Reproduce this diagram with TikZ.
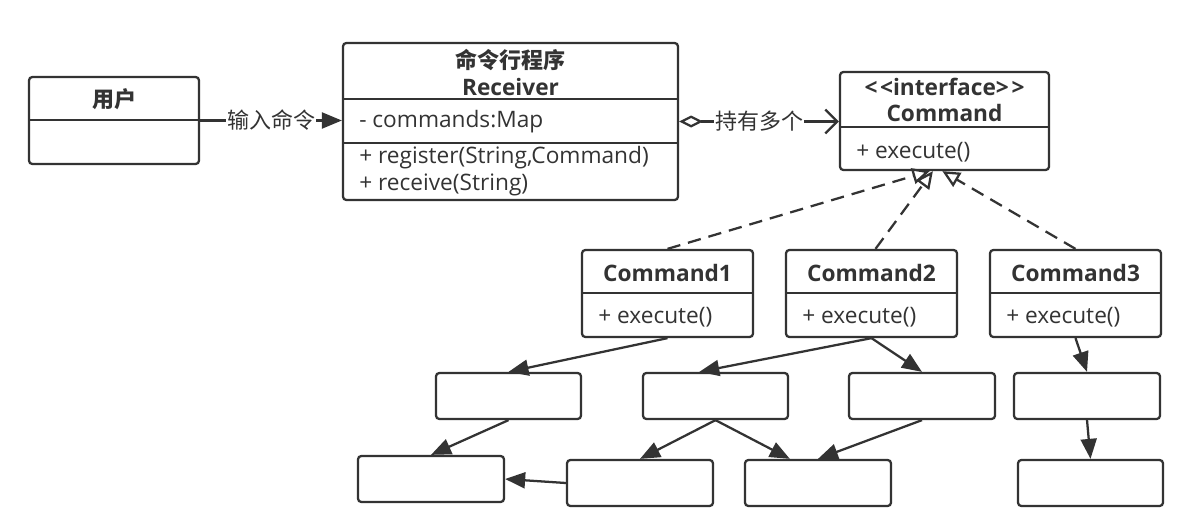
\documentclass[tikz,border=0pt]{standalone}
\usepackage{fontspec}
\setmainfont{Open Sans}
\newfontfamily\cjk{Noto Sans CJK SC}
\usetikzlibrary{arrows.meta,fit,calc}
\definecolor{ink}{HTML}{333333}
\begin{document}
\begin{tikzpicture}[x=0.75pt,y=-0.75pt,
  font=\fontsize{17}{20}\selectfont,
  umlbox/.style={draw=ink, line width=1.7pt, rounded corners=2.5pt, inner sep=0pt},
  txt/.style={text=ink, inner sep=0pt},
  boldtxt/.style={txt, font=\fontsize{17}{20}\selectfont\bfseries},
  divider/.style={draw=ink, line width=1.7pt},
  conn/.style={draw=ink, line width=1.7pt},
  arr/.style={conn, -{Triangle[length=15pt,width=12pt]}},
  realize/.style={conn, dash pattern=on 10pt off 6pt, -{Triangle[open,fill=white,length=13pt,width=12pt]}},
  lab/.style={txt, fill=white, inner sep=1pt, font=\fontsize{16.5}{19}\selectfont\cjk}
]
\useasboundingbox (0,0) rectangle (1202,528);

% user box
\node[umlbox, fit={(29,77) (199,164)}] (u) {};
\draw[divider] (29,120) -- (199,120);
\node[boldtxt, font=\fontsize{16.5}{19}\selectfont\cjk\bfseries] (ut) at (114,99) {用户};

% receiver box
\node[umlbox, fit={(343,43) (678,200)}] (r) {};
\draw[divider] (343,99) -- (678,99);
\draw[divider] (343,143) -- (678,143);
\node[boldtxt, font=\fontsize{16.5}{19}\selectfont\cjk\bfseries] (rt1) at (510.5,60) {命令行程序};
\node[boldtxt] (rt2) at (510.5,87) {Receiver};
\node[txt, anchor=west] (ra) at (359,122) {- commands:Map};
\node[txt, anchor=west] (rm1) at (359,158) {+ register(String,Command)};
\node[txt, anchor=west] (rm2) at (359,185) {+ receive(String)};

% command interface
\node[umlbox, fit={(840,72) (1049,170)}] (cmd) {};
\draw[divider] (840,127) -- (1049,127);
\node[boldtxt] (ct1) at (944.5,87) {<\kern2pt<interface>\kern2pt>};
\node[boldtxt] (ct2) at (944.5,113) {Command};
\node[txt, anchor=west] (cm) at (856,152) {+ execute()};

% concrete commands
\node[umlbox, fit={(582,250) (753,337)}] (c1) {};
\draw[divider] (582,293) -- (753,293);
\node[boldtxt] (c1t) at (667.5,273) {Command1};
\node[txt, anchor=west] (c1m) at (598,317) {+ execute()};

\node[umlbox, fit={(786,250) (957,337)}] (c2) {};
\draw[divider] (786,293) -- (957,293);
\node[boldtxt] (c2t) at (871.5,273) {Command2};
\node[txt, anchor=west] (c2m) at (802,317) {+ execute()};

\node[umlbox, fit={(990,250) (1161,337)}] (c3) {};
\draw[divider] (990,293) -- (1161,293);
\node[boldtxt] (c3t) at (1075.5,273) {Command3};
\node[txt, anchor=west] (c3m) at (1006,317) {+ execute()};

% empty boxes
\node[umlbox, fit={(436,373) (581,419)}] (a) {};
\node[umlbox, fit={(643,373) (788,419)}] (b) {};
\node[umlbox, fit={(849,373) (995,419)}] (f) {};
\node[umlbox, fit={(1014,373) (1160,419)}] (g) {};
\node[umlbox, fit={(358,456) (504,502)}] (c) {};
\node[umlbox, fit={(567,460) (713,506)}] (d) {};
\node[umlbox, fit={(745,460) (891,506)}] (e) {};
\node[umlbox, fit={(1018,460) (1163,506)}] (h) {};

% user -> receiver
\draw[arr] (u.east) -- (u.east -| r.west) node[lab, pos=0.5] (l1) {输入命令};
% receiver -> command
\draw[conn, {Diamond[open,fill=white,length=18pt,width=9pt]}-{Straight Barb[length=9pt,width=18pt,line width=1.7pt]}]
  (r.east) -- (r.east -| cmd.west) node[lab, pos=0.5] (l2) {持有多个};

% realizations
\draw[realize] (c1.north) -- ($(cmd.south west)!0.43!(cmd.south east)$);
\draw[realize] ([xshift=3pt]c2.north) -- ($(cmd.south west)!0.445!(cmd.south east)$);
\draw[realize] (c3.north) -- ($(cmd.south west)!0.49!(cmd.south east)$);

% tree arrows
\draw[arr] (c1.south) -- (a.north);
\draw[arr] (c2.south) -- ($(b.north west)!0.39!(b.north east)$);
\draw[arr] (c2.south) -- (f.north);
\draw[arr] (c3.south) -- (g.north);
\draw[arr] (a.south) -- (c.north);
\draw[arr] (b.south) -- (d.north);
\draw[arr] (b.south) -- ($(e.north west)!0.31!(e.north east)$);
\draw[arr] (f.south) -- (e.north);
\draw[arr] (g.south) -- (h.north);
\draw[arr] (d.west) -- (c.east);
\end{tikzpicture}
\end{document}
